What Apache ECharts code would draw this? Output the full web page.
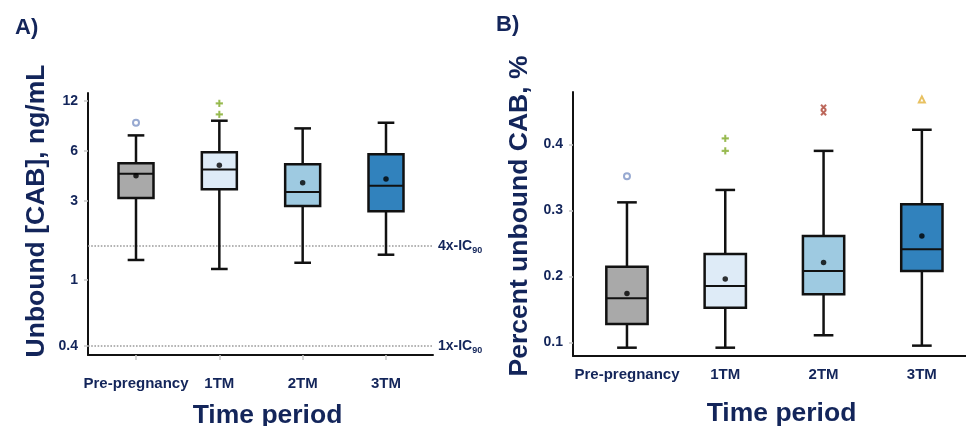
<!DOCTYPE html>
<html><head><meta charset="utf-8">
<script src="https://cdn.jsdelivr.net/npm/echarts@6/dist/echarts.min.js"></script>
<style>html,body{margin:0;padding:0;background:#fff}#c{width:966px;height:426px}</style>
</head><body><div id="c"></div>
<script>
// ---------- data ----------
const categories = ['Pre-pregnancy', '1TM', '2TM', '3TM'];

// A) Unbound [CAB], ng/mL  — [min, Q1, median, Q3, max]
const unboundBoxes = [
  [1.32, 3.12, 4.37, 5.05, 7.44],
  [1.165, 3.52, 4.64, 5.88, 9.12],
  [1.27, 2.79, 3.39, 4.98, 8.2],
  [1.42, 2.60, 3.70, 5.72, 8.87]
];
const unboundMeans = [4.25, 4.91, 3.86, 4.06];
const unboundOutlierCat = [0, 1, 1];
const unboundOutlierVal = [8.87, 11.6, 9.96];
const unboundTicks = [0.4, 1, 3, 6, 12];
const icValues = [0.4, 1.6];
const icLabels = ['1x-IC', '4x-IC'];
const icSub = '90';

// B) Percent unbound CAB, %  — [min, Q1, median, Q3, max]
const percentBoxes = [
  [0.0918, 0.1277, 0.1667, 0.2145, 0.312],
  [0.0918, 0.1524, 0.1853, 0.2338, 0.3308],
  [0.1106, 0.1727, 0.208, 0.261, 0.390],
  [0.0949, 0.208, 0.241, 0.309, 0.422]
];
const percentMeans = [0.174, 0.196, 0.221, 0.261];
const percentOutlierCat = [0, 1, 1, 2, 2, 3];
const percentOutlierVal = [0.3515, 0.409, 0.390, 0.456, 0.448, 0.468];
const percentTicks = [0.1, 0.2, 0.3, 0.4];

// ---------- styles ----------
const NAVY = '#13255a';
const FONT = '"Liberation Sans", Arial, sans-serif';
const boxColors = ['#a9a9a9', '#deebf7', '#9ecae1', '#3182bd'];
const PLUS = 'path://M4.3,0H5.7V4.3H10V5.7H5.7V10H4.3V5.7H0V4.3H4.3Z';
const outlierSymbols = ['emptyCircle', PLUS, PLUS, 'emptyTriangle'];
const outlierRotate = [0, 0, 45, 0];
const outlierColors = ['#7d93c6', '#8db33f', '#b5584a', '#e2b23a'];

function boxRenderer(params, api) {
  const i = api.value(0);
  const v = [api.value(1), api.value(2), api.value(3), api.value(4), api.value(5)];
  const p = v.map(val => api.coord([i, val]));
  const unit = api.coord([i + 0.5, v[2]])[0] - api.coord([i - 0.5, v[2]])[0];
  const x = p[0][0];
  const hb = unit * 0.21, hc = unit * 0.1;
  const ls = {stroke: '#111', lineWidth: 2.5, fill: null};
  return {
    type: 'group',
    children: [
      {type: 'line', shape: {x1: x, y1: p[4][1], x2: x, y2: p[3][1]}, style: ls},
      {type: 'line', shape: {x1: x, y1: p[1][1], x2: x, y2: p[0][1]}, style: ls},
      {type: 'line', shape: {x1: x - hc, y1: p[4][1], x2: x + hc, y2: p[4][1]}, style: ls},
      {type: 'line', shape: {x1: x - hc, y1: p[0][1], x2: x + hc, y2: p[0][1]}, style: ls},
      {type: 'rect', shape: {x: x - hb, y: p[3][1], width: 2 * hb, height: p[1][1] - p[3][1]},
        style: {fill: boxColors[i], stroke: '#111', lineWidth: 2.5}},
      {type: 'line', shape: {x1: x - hb, y1: p[2][1], x2: x + hb, y2: p[2][1]}, style: {stroke: '#111', lineWidth: 2}}
    ]
  };
}

function boxData(boxes) { return boxes.map((b, i) => [i].concat(b)); }
function meanData(means) { return means.map((m, i) => [i, m]); }
function outlierData(cats, vals) {
  return cats.map((c, k) => ({
    value: [c, vals[k]],
    symbol: outlierSymbols[c],
    symbolRotate: outlierRotate[c],
    itemStyle: {color: outlierColors[c], borderColor: outlierColors[c], borderWidth: 1.3}
  }));
}

const catTicks = categories.map((c, i) => i);
const labelStyle = {color: NAVY, fontWeight: 'bold', fontSize: 14, fontFamily: FONT};
const xLabelStyle = {color: NAVY, fontWeight: 'bold', fontSize: 15, fontFamily: FONT};
const nameStyle = {color: NAVY, fontWeight: 'bold', fontSize: 26.5, fontFamily: FONT};

const chart = echarts.init(document.getElementById('c'));
chart.setOption({
  animation: false,
  backgroundColor: '#fff',
  title: [
    {text: 'A)', left: 10, top: 12, textStyle: {color: NAVY, fontWeight: 'bold', fontSize: 22, fontFamily: FONT}},
    {text: 'B)', left: 491, top: 9, textStyle: {color: NAVY, fontWeight: 'bold', fontSize: 22, fontFamily: FONT}}
  ],
  grid: [
    {left: 88, top: 93, width: 345, height: 262, outerBoundsMode: 'none', containLabel: false},
    {left: 573, top: 92, width: 393, height: 264, outerBoundsMode: 'none', containLabel: false}
  ],
  xAxis: [
    {
      type: 'value', gridIndex: 0, min: -0.576, max: 3.564,
      name: 'Time period', nameLocation: 'middle', nameGap: 47,
      nameTextStyle: Object.assign({padding: [0, 0, 0, 14]}, nameStyle),
      axisLine: {onZero: false, lineStyle: {color: '#111', width: 2}},
      axisTick: {show: true, customValues: catTicks, length: 5, lineStyle: {color: '#c8c8c8', width: 1.5}},
      axisLabel: Object.assign({customValues: catTicks, margin: 21, formatter: v => categories[Math.round(v)]}, xLabelStyle),
      splitLine: {show: false}
    },
    {
      type: 'value', gridIndex: 1, min: -0.549, max: 3.449,
      name: 'Time period', nameLocation: 'middle', nameGap: 44,
      nameTextStyle: Object.assign({padding: [0, 0, 0, 24]}, nameStyle),
      axisLine: {onZero: false, lineStyle: {color: '#111', width: 2}},
      axisTick: {show: false},
      axisLabel: Object.assign({customValues: catTicks, margin: 11, formatter: v => categories[Math.round(v)]}, xLabelStyle),
      splitLine: {show: false}
    }
  ],
  yAxis: [
    {
      type: 'log', logBase: 10, gridIndex: 0, min: 0.353, max: 13.4,
      name: 'Unbound [CAB], ng/mL', nameLocation: 'middle', nameGap: 38,
      nameTextStyle: Object.assign({padding: [0, 0, 0, 26]}, nameStyle),
      axisLine: {show: true, onZero: false, lineStyle: {color: '#111', width: 2}},
      axisTick: {show: true, customValues: unboundTicks, length: 4, lineStyle: {color: '#c8c8c8', width: 1.5}},
      axisLabel: Object.assign({customValues: unboundTicks, margin: 10, formatter: v => String(+(+v).toFixed(2))}, labelStyle),
      splitLine: {show: false}, minorTick: {show: false}
    },
    {
      type: 'value', gridIndex: 1, min: 0.0792, max: 0.4792,
      name: 'Percent unbound CAB, %', nameLocation: 'middle', nameGap: 40,
      nameTextStyle: Object.assign({padding: [0, 0, 0, 16]}, nameStyle),
      axisLine: {show: true, onZero: false, lineStyle: {color: '#111', width: 2}},
      axisTick: {show: true, customValues: percentTicks, length: 4, lineStyle: {color: '#c8c8c8', width: 1.5}},
      axisLabel: Object.assign({customValues: percentTicks, margin: 10, formatter: v => (+v).toFixed(1)}, labelStyle),
      splitLine: {show: false}
    }
  ],
  series: [
    {
      type: 'custom', xAxisIndex: 0, yAxisIndex: 0, renderItem: boxRenderer,
      data: boxData(unboundBoxes), encode: {x: 0, y: [1, 2, 3, 4, 5]}, z: 3,
      markLine: {
        silent: true, symbol: 'none', z: 1,
        lineStyle: {type: 'dotted', color: '#9a9a9a', width: 1.6},
        data: icValues.map((v, k) => ({
          yAxis: v,
          label: {
            show: true, position: 'end', distance: 5,
            formatter: '{m|' + icLabels[k] + '}{s|' + icSub + '}',
            rich: {
              m: {color: NAVY, fontWeight: 'bold', fontSize: 14, fontFamily: FONT},
              s: {color: NAVY, fontWeight: 'bold', fontSize: 9, fontFamily: FONT, padding: [9, 0, 0, 0]}
            }
          }
        }))
      }
    },
    {
      type: 'scatter', xAxisIndex: 0, yAxisIndex: 0, data: meanData(unboundMeans),
      symbol: 'circle', symbolSize: 5.5, itemStyle: {color: '#000'}, z: 5
    },
    {
      type: 'scatter', xAxisIndex: 0, yAxisIndex: 0, data: outlierData(unboundOutlierCat, unboundOutlierVal),
      symbolSize: 6, z: 5
    },
    {
      type: 'custom', xAxisIndex: 1, yAxisIndex: 1, renderItem: boxRenderer,
      data: boxData(percentBoxes), encode: {x: 0, y: [1, 2, 3, 4, 5]}, z: 3
    },
    {
      type: 'scatter', xAxisIndex: 1, yAxisIndex: 1, data: meanData(percentMeans),
      symbol: 'circle', symbolSize: 5.5, itemStyle: {color: '#000'}, z: 5
    },
    {
      type: 'scatter', xAxisIndex: 1, yAxisIndex: 1, data: outlierData(percentOutlierCat, percentOutlierVal),
      symbolSize: 6, z: 5
    }
  ]
});
</script>
</body></html>
